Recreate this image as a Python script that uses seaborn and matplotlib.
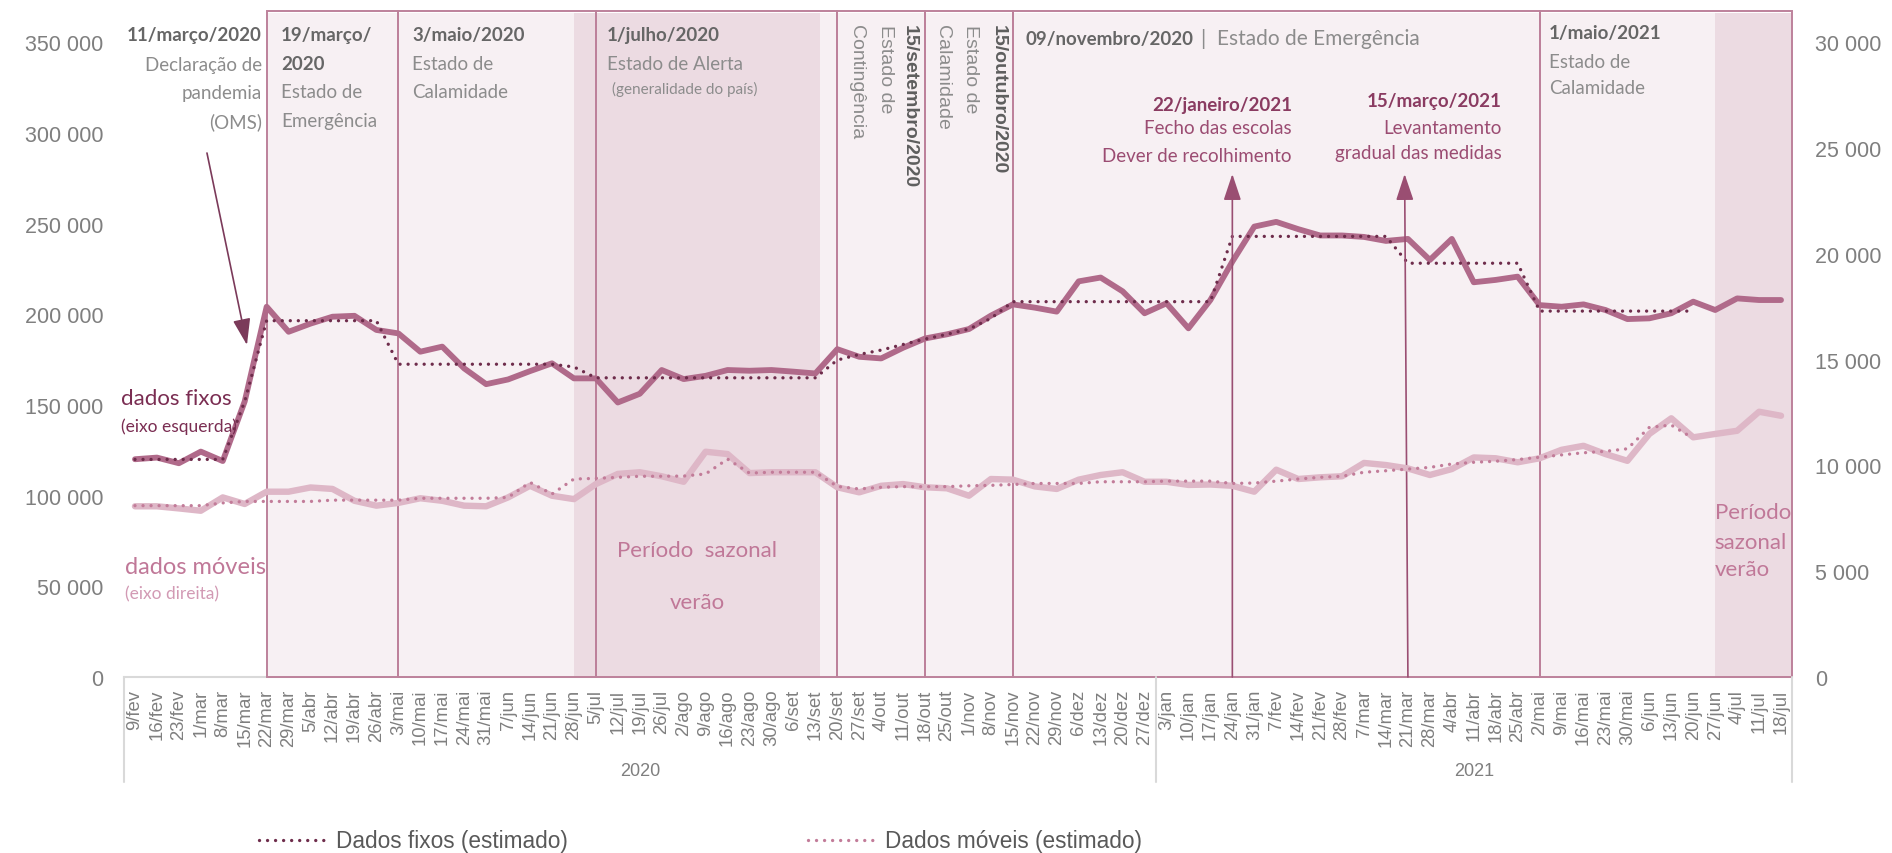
import numpy as np
import matplotlib
matplotlib.use("Agg")
import matplotlib.pyplot as plt
import matplotlib.transforms as mtransforms
from matplotlib.patches import Rectangle
from matplotlib.lines import Line2D
import seaborn as sns

sns.set_theme(style="white")
plt.rcParams["font.family"] = ["Liberation Sans", "DejaVu Sans"]

# Semanas (eixo categorico)
semanas_2020 = ["9/fev", "16/fev", "23/fev", "1/mar", "8/mar", "15/mar", "22/mar", "29/mar",
                "5/abr", "12/abr", "19/abr", "26/abr", "3/mai", "10/mai", "17/mai", "24/mai",
                "31/mai", "7/jun", "14/jun", "21/jun", "28/jun", "5/jul", "12/jul", "19/jul",
                "26/jul", "2/ago", "9/ago", "16/ago", "23/ago", "30/ago", "6/set", "13/set",
                "20/set", "27/set", "4/out", "11/out", "18/out", "25/out", "1/nov", "8/nov",
                "15/nov", "22/nov", "29/nov", "6/dez", "13/dez", "20/dez", "27/dez"]
semanas_2021 = ["3/jan", "10/jan", "17/jan", "24/jan", "31/jan", "7/fev", "14/fev", "21/fev",
                "28/fev", "7/mar", "14/mar", "21/mar", "28/mar", "4/abr", "11/abr", "18/abr",
                "25/abr", "2/mai", "9/mai", "16/mai", "23/mai", "30/mai", "6/jun", "13/jun",
                "20/jun", "27/jun", "4/jul", "11/jul", "18/jul"]
semanas = semanas_2020 + semanas_2021

# Dados fixos (eixo esquerdo)
fixos = [120100, 121000, 117900, 124300, 119100, 152000, 204200, 190400, 194900, 198700,
         199200, 191400, 189500, 179400, 182200, 170200, 161500, 164100, 168700, 173000,
         164700, 164700, 151400, 156200, 169300, 164300, 166100, 169300, 168900, 169300,
         168400, 167400, 180800, 176600, 175700, 181600, 186700, 189000, 191900, 199300,
         205500, 203700, 201500, 218200, 220300, 212700, 200600, 206100, 192300, 207900,
         229100, 248400, 251000, 247000, 243500, 243500, 242700, 240500, 241600, 230000,
         241600, 217700, 219000, 220800, 205100, 204200, 205500, 202400, 197400, 197800,
         200600, 207000, 202400, 208800, 207900, 207900]
fixos_est = [120000, 120000, 120000, 120000, 120000, 152000, 196500, 196500, 196500, 196500,
             196500, 196500, 172500, 172500, 172500, 172500, 172500, 172500, 172500, 172500,
             171000, 165000, 165000, 165000, 165000, 165000, 165000, 165000, 165000, 165000,
             165000, 165000, 174800, 177900, 180300, 183400, 186400, 189000, 191900, 197800,
             207000, 207000, 207000, 207000, 207000, 207000, 207000, 207000, 207000, 207000,
             243000, 243000, 243000, 243000, 243000, 243000, 243000, 243000, 228200, 228200,
             228200, 228200, 228200, 228200, 201800, 201800, 201800, 201800, 201800, 201800,
             201800, 201800]

# Dados moveis (eixo direito)
moveis = [8070, 8070, 7970, 7860, 8490, 8180, 8760, 8760, 8960, 8890,
          8330, 8100, 8230, 8450, 8330, 8100, 8070, 8490, 9040, 8570,
          8410, 9120, 9600, 9680, 9490, 9230, 10650, 10540, 9640, 9680,
          9680, 9680, 8970, 8730, 9040, 9120, 8970, 8920, 8570, 9360,
          9330, 9010, 8890, 9330, 9550, 9680, 9230, 9230, 9080, 9100,
          9040, 8760, 9800, 9360, 9440, 9490, 10120, 10020, 9860, 9550,
          9830, 10380, 10340, 10150, 10340, 10740, 10930, 10540, 10220, 11490,
          12230, 11330, 11490, 11640, 12540, 12350]
moveis_est = [8100, 8100, 8100, 8100, 8230, 8300, 8300, 8300, 8300, 8360,
              8360, 8360, 8360, 8450, 8450, 8450, 8450, 8490, 9200, 8650,
              9360, 9390, 9440, 9490, 9490, 9500, 9600, 10300, 9640, 9680,
              9680, 9680, 9010, 8890, 8970, 9000, 9000, 9000, 9040, 9060,
              9100, 9150, 9150, 9150, 9230, 9230, 9230, 9260, 9260, 9260,
              9150, 9170, 9260, 9360, 9440, 9490, 9680, 9750, 9830, 9910,
              10070, 10150, 10200, 10280, 10390, 10500, 10600, 10670, 10790, 11800,
              11910, 11280]

# cores
C_FIX = "#b06a8a"
C_FIX_EST = "#6e2c4b"
C_MOV = "#deb7c7"
C_MOV_EST = "#c27c99"
C_BOX = "#f7f0f3"
C_SAZ = "#ecdbe2"
C_EDGE = "#bd819b"
C_GREY = "#7f7f7f"
DOTS = (0, (0.01, 2.4))

YTOP_L = 367300
YTOP_R = 31485

fig = plt.figure(figsize=(18.92, 8.54), dpi=100)
ax = fig.add_axes([124 / 1892, 1 - 678 / 854, 1668 / 1892, 664 / 854])
ax2 = ax.twinx()
x = np.arange(len(semanas))

# caixas dos periodos
caixas = [(6, 12), (12, 21), (21, 32), (32, 36), (36, 40), (40, 64), (64, 75.5)]
sazonal = [(20, 31.2), (72, 75.5)]
for x0, x1 in caixas:
    ax.add_patch(Rectangle((x0, 0), x1 - x0, YTOP_L, facecolor=C_BOX, edgecolor="none", zorder=0.3))
for x0, x1 in sazonal:
    ax.add_patch(Rectangle((x0, 0), x1 - x0, YTOP_L, facecolor=C_SAZ, edgecolor="none", zorder=0.4))
for x0, x1 in caixas:
    ax.add_patch(Rectangle((x0, 0), x1 - x0, YTOP_L, facecolor="none", edgecolor=C_EDGE,
                           lw=1.4, zorder=0.6, clip_on=False))

# linhas
sns.lineplot(x=x, y=fixos, ax=ax, color=C_FIX, lw=4.2, zorder=3)
sns.lineplot(x=x[:len(fixos_est)], y=fixos_est, ax=ax, color=C_FIX_EST, lw=2.4,
             linestyle=DOTS, dash_capstyle="round", zorder=4)
sns.lineplot(x=x, y=moveis, ax=ax2, color=C_MOV, lw=4.6, zorder=3)
sns.lineplot(x=x[:len(moveis_est)], y=moveis_est, ax=ax2, color=C_MOV_EST, lw=2.4,
             linestyle=DOTS, dash_capstyle="round", zorder=4)

ax.set_xlim(-0.5, 75.5)
YTOP_L = 367300 * 664 / 666
YTOP_R = 31485 * 664 / 666
ax.set_ylim(0, YTOP_L)
ax2.set_ylim(0, YTOP_R)

ticks_l = list(range(0, 350001, 50000))
ticks_r = list(range(0, 30001, 5000))
ax.set_yticks(ticks_l)
ax.set_yticklabels([f"{v:,}".replace(",", " ") for v in ticks_l])
ax2.set_yticks(ticks_r)
ax2.set_yticklabels([f"{v:,}".replace(",", " ") for v in ticks_r])
ax.set_xticks(x)
ax.set_xticklabels(semanas, rotation=90)
ax.tick_params(axis="y", length=0, pad=15, labelsize=15.5, labelcolor=C_GREY)
ax2.tick_params(axis="y", length=0, pad=16.5, labelsize=15.5, labelcolor=C_GREY)
ax.tick_params(axis="x", length=0, pad=8.5, labelsize=13.3, labelcolor=C_GREY)
ax.set_xlabel("")
ax.set_ylabel("")
ax2.set_ylabel("")
for s in ["top", "left", "right"]:
    ax.spines[s].set_visible(False)
for s in ax2.spines.values():
    s.set_visible(False)
ax.spines["bottom"].set_color("#d9d9d9")
ax.spines["bottom"].set_linewidth(1.5)
ax.spines["bottom"].set_zorder(0.2)
ax.grid(False)
ax2.grid(False)

trans = mtransforms.blended_transform_factory(ax.transData, ax.transAxes)


def fy(ypix):
    return (678 - ypix) / 664


def fx(xpix):
    return (xpix - 135) / 21.95


# anos e separadores
for xs in (-0.5, 46.5, 75.5):
    ax.plot([xs, xs], [0, fy(783)], transform=trans, clip_on=False, color="#d9d9d9", lw=1.5)
ax.text(23, fy(772), "2020", transform=trans, ha="center", va="center", fontsize=13, color=C_GREY)
ax.text(61, fy(772), "2021", transform=trans, ha="center", va="center", fontsize=13, color=C_GREY)

LATO = ["Lato", "DejaVu Sans"]
D_COL = "#666666"
T_COL = "#8c8c8c"


def bloco(xi, ys, linhas, ha, cores, pesos, tamanhos):
    for y, s, c, w, fs in zip(ys, linhas, cores, pesos, tamanhos):
        ax.text(xi, fy(y), s, transform=trans, ha=ha, va="center", color=c,
                fontweight=w, fontsize=fs, family=LATO, zorder=6)


bloco(fx(262), [36, 65, 93, 122], ["11/março/2020", "Declaração de", "pandemia", "(OMS)"], "right",
      [D_COL, T_COL, T_COL, T_COL], ["bold", "normal", "normal", "normal"], [13.5] * 4)
bloco(fx(281), [36, 64, 93, 122], ["19/março/", "2020", "Estado de", "Emergência"], "left",
      [D_COL, D_COL, T_COL, T_COL], ["bold", "bold", "normal", "normal"], [13.5] * 4)
bloco(fx(412), [36, 64, 92], ["3/maio/2020", "Estado de", "Calamidade"], "left",
      [D_COL, T_COL, T_COL], ["bold", "normal", "normal"], [13.5] * 3)
bloco(fx(607), [36, 64], ["1/julho/2020", "Estado de Alerta"], "left",
      [D_COL, T_COL], ["bold", "normal"], [13.5] * 2)
bloco(fx(612), [89], ["(generalidade do país)"], "left", [T_COL], ["normal"], [11])
bloco(fx(1549), [34, 62, 88], ["1/maio/2021", "Estado de", "Calamidade"], "left",
      [D_COL, T_COL, T_COL], ["bold", "normal", "normal"], [13.5] * 3)

# textos verticais
for xi, s, w, c in [(32.87, "Contingência", "normal", T_COL), (34.18, "Estado de", "normal", T_COL),
                    (35.3, "15/setembro/2020", "bold", "#5e5e5e"),
                    (36.8, "Calamidade", "normal", T_COL), (38.05, "Estado de", "normal", T_COL),
                    (39.33, "15/outubro/2020", "bold", "#5e5e5e")]:
    ax.text(xi, fy(25), s, transform=trans, rotation=-90, ha="center", va="top",
            fontsize=14, fontweight=w, color=c, zorder=6)

t_nov = ax.text(fx(1026), fy(39), "09/novembro/2020", transform=trans, ha="left", va="center",
                fontsize=13.5, fontweight="bold", color=D_COL, family=LATO, zorder=6)
ax.annotate("|  Estado de Emergência", xy=(1, 0.5), xycoords=t_nov, xytext=(5, 0),
            textcoords="offset points", ha="left", va="center", fontsize=15,
            color=T_COL, family=LATO, zorder=6)

P_DATE = "#8a3b61"
P_TXT = "#9b4c72"
bloco(fx(1292), [105, 129, 157], ["22/janeiro/2021", "Fecho das escolas", "Dever de recolhimento"],
      "right", [P_DATE, P_TXT, P_TXT], ["bold", "normal", "normal"], [13.5] * 3)
bloco(fx(1502), [101, 128, 154], ["15/março/2021", "Levantamento", "gradual das medidas"],
      "right", [P_DATE, P_TXT, P_TXT], ["bold", "normal", "normal"], [13.5] * 3)

seta = dict(arrowstyle="-|>,head_length=0.9,head_width=0.3", color="#7b3a5a", lw=1.2,
            mutation_scale=18, shrinkA=0, shrinkB=0)
ax.annotate("", xy=(fx(247), fy(346)), xytext=(fx(207), fy(154)), xycoords=trans,
            textcoords=trans, arrowprops=seta, zorder=6)
ax.annotate("", xy=(50, fy(175)), xytext=(50, 0), xycoords=trans, textcoords=trans,
            arrowprops=dict(seta, color="#9a4e72"), zorder=6)
ax.annotate("", xy=(57.85, fy(175)), xytext=(58, 0), xycoords=trans, textcoords=trans,
            arrowprops=dict(seta, color="#9a4e72"), zorder=6)

# rotulos das series
bloco(fx(121), [399], ["dados fixos"], "left", ["#7a2d52"], ["normal"], [16])
bloco(fx(121), [427], ["(eixo esquerda)"], "left", ["#7a2d52"], ["normal"], [12.5])
bloco(fx(125), [568], ["dados móveis"], "left", ["#c07898"], ["normal"], [17])
bloco(fx(125), [594], ["(eixo direita)"], "left", ["#d29ab4"], ["normal"], [12.5])
bloco(fx(697), [551, 603], ["Período  sazonal", "verão"], "center", ["#c07898"] * 2,
      ["normal"] * 2, [16] * 2)
bloco(fx(1715), [513, 543, 570], ["Período", "sazonal", "verão"], "left", ["#c07898"] * 3,
      ["normal"] * 3, [16] * 3)

# legenda
handles = [Line2D([], [], color=C_FIX_EST, lw=2.4, ls=DOTS, dash_capstyle="round"),
           Line2D([], [], color=C_MOV_EST, lw=2.4, ls=DOTS, dash_capstyle="round")]
fig.legend(handles, ["Dados fixos (estimado)", "Dados móveis (estimado)"], loc="center left",
           bbox_to_anchor=(259 / 1892, 1 - 842 / 854), ncol=2, frameon=False, fontsize=16.3,
           handlelength=3.0, handletextpad=0.4, columnspacing=10.6, labelcolor="#595959",
           borderpad=0, borderaxespad=0)

fig.savefig("out.png", dpi=100)
